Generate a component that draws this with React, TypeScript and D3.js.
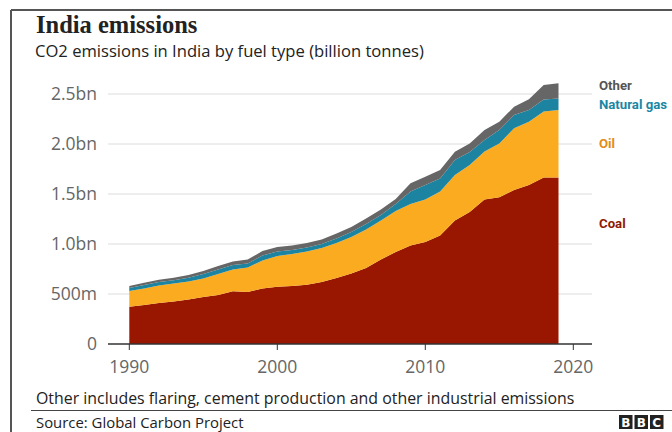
import React from "react";
import * as d3 from "d3";

const years = [1990,1991,1992,1993,1994,1995,1996,1997,1998,1999,2000,2001,2002,2003,2004,2005,2006,2007,2008,2009,2010,2011,2012,2013,2014,2015,2016,2017,2018,2019];
const coal = [0.373,0.390,0.410,0.425,0.445,0.470,0.490,0.528,0.520,0.555,0.572,0.580,0.592,0.620,0.660,0.705,0.760,0.845,0.920,0.985,1.020,1.085,1.235,1.320,1.445,1.468,1.540,1.590,1.665,1.665];
const oil = [0.157,0.165,0.175,0.180,0.180,0.185,0.210,0.217,0.245,0.280,0.308,0.320,0.333,0.340,0.350,0.365,0.385,0.390,0.410,0.415,0.425,0.440,0.455,0.470,0.480,0.537,0.617,0.633,0.660,0.675];
const gas = [0.030,0.035,0.035,0.033,0.037,0.045,0.045,0.045,0.040,0.050,0.045,0.040,0.040,0.040,0.045,0.050,0.055,0.055,0.070,0.125,0.145,0.130,0.150,0.130,0.115,0.135,0.133,0.117,0.120,0.115];
const other = [0.020,0.022,0.023,0.024,0.028,0.030,0.035,0.035,0.040,0.045,0.045,0.045,0.045,0.045,0.050,0.050,0.055,0.055,0.050,0.082,0.083,0.085,0.082,0.085,0.100,0.083,0.083,0.107,0.145,0.152];

const seriesKeys = ["coal", "oil", "gas", "other"];
const seriesColors = ["#991700", "#fbab1f", "#1c84a0", "#666666"];
const legendLabels = ["Coal", "Oil", "Natural gas", "Other"];
const legendColors = ["#8f1a00", "#e08c17", "#1a86a3", "#555555"];
const legendY = [228, 148, 109, 90];

const yTicks = [0, 0.5, 1.0, 1.5, 2.0, 2.5];
const yTickLabels = ["0", "500m", "1.0bn", "1.5bn", "2.0bn", "2.5bn"];
const xTicks = [1990, 2000, 2010, 2020];

const W = 672, H = 432;
const sans = "'Open Sans', 'Noto Sans', sans-serif";

export default function App() {
  const x = d3.scaleLinear().domain([1990, 2020]).range([129.3, 573.3]);
  const y = d3.scaleLinear().domain([0, 2.5]).range([344, 94]);
  const rows = years.map((yr, i) => ({ year: yr, coal: coal[i], oil: oil[i], gas: gas[i], other: other[i] }));
  const stacked = d3.stack<any>().keys(seriesKeys)(rows);
  const area = d3.area<any>()
    .x((d) => x(d.data.year))
    .y0((d) => y(d[0]))
    .y1((d) => y(d[1]));
  const gridX0 = 108, gridX1 = 592;

  return (
    <svg width={W} height={H} style={{ position: "absolute", left: 0, top: 0, background: "#fff" }}>
      <rect x={0} y={0} width={W} height={H} fill="#fff" />
      <line x1={11} y1={10} x2={W} y2={10} stroke="#555" strokeWidth={2} />
      <line x1={11} y1={10} x2={11} y2={H} stroke="#555" strokeWidth={2} />

      <text x={36} y={33} fontFamily="'Liberation Serif', serif" fontWeight="bold" fontSize={24.5} fill="#222">India emissions</text>
      <text x={35} y={57} fontFamily={sans} fontSize={16.6} fill="#222">CO2 emissions in India by fuel type (billion tonnes)</text>

      {yTicks.map((t, i) => (
        <g key={"y" + i}>
          {t > 0 && <line x1={gridX0} x2={gridX1} y1={y(t)} y2={y(t)} stroke="#dcdcdc" strokeWidth={1} />}
          <text x={97} y={y(t) + 6.3} textAnchor="end" fontFamily={sans} fontSize={17.5} fill="#666">{yTickLabels[i]}</text>
        </g>
      ))}

      {stacked.map((s, i) => (
        <path key={seriesKeys[i]} d={area(s) || ""} fill={seriesColors[i]} />
      ))}

      <line x1={gridX0} x2={gridX1} y1={y(0)} y2={y(0)} stroke="#333" strokeWidth={1.5} />
      {xTicks.map((t) => (
        <g key={"x" + t}>
          <line x1={x(t)} x2={x(t)} y1={y(0)} y2={y(0) + 6} stroke="#333" strokeWidth={1} />
          <text x={x(t)} y={373} textAnchor="middle" fontFamily={sans} fontSize={17.5} fill="#666">{t}</text>
        </g>
      ))}

      {legendLabels.map((l, i) => (
        <text key={l} x={599} y={legendY[i]} fontFamily="Roboto, sans-serif" fontWeight="bold" fontSize={13.2} fill={legendColors[i]}>{l}</text>
      ))}

      <text x={36} y={404} fontFamily={sans} fontSize={15.9} fill="#222">Other includes flaring, cement production and other industrial emissions</text>
      <line x1={31} x2={W} y1={410.5} y2={410.5} stroke="#444" strokeWidth={1} />
      <text x={36} y={428} fontFamily={sans} fontSize={14.9} fill="#222">Source: Global Carbon Project</text>
      {["B", "B", "C"].map((c, i) => (
        <g key={"bbc" + i}>
          <rect x={619 + i * 15.5} y={415} width={13.5} height={14} fill="#222" />
          <text x={619 + i * 15.5 + 6.75} y={427} textAnchor="middle" fontFamily="'DejaVu Sans', sans-serif" fontWeight="bold" fontSize={12} fill="#fff">{c}</text>
        </g>
      ))}
    </svg>
  );
}
